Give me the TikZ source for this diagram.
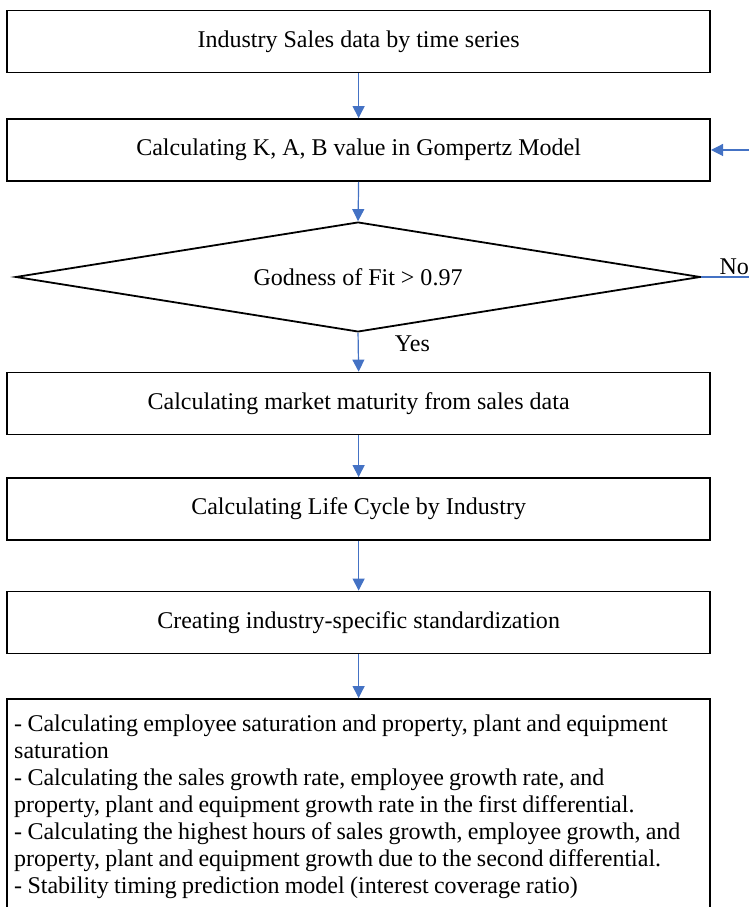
\documentclass[tikz,border=0pt]{standalone}
\usepackage{fontspec}
\setmainfont{Liberation Serif}
\usetikzlibrary{arrows.meta, shapes.geometric}
\definecolor{flowblue}{RGB}{68,114,196}

\begin{document}
\begin{tikzpicture}[
  font=\fontsize{12}{13.5}\selectfont,
  stepbox/.style={draw, line width=0.9pt, minimum width=123.5mm, minimum height=10.9mm, inner sep=0pt},
  decision/.style={draw, diamond, aspect=6, line width=0.9pt, minimum width=120.3mm,
    minimum height=19.3mm, inner sep=0pt},
  listbox/.style={draw, line width=0.9pt, align=left, text width=121mm, inner xsep=1.25mm,
    inner ysep=2.8mm},
  flow/.style={draw=flowblue, line width=0.6pt, -{Triangle[width=6pt,length=6pt]}},
  lbl/.style={inner sep=1pt}
]
\useasboundingbox (0mm,0mm) rectangle (131.58mm,-159.34mm);

\node[stepbox] (sales) at (63mm,-7.29mm) {Industry Sales data by time series};
\node[stepbox] (gomp) at (63mm,-26.35mm) {Calculating K, A, B value in Gompertz Model};
\node[decision] (fit) at (62.9mm,-48.66mm) {Godness of Fit > 0.97};
\node[stepbox] (matur) at (63mm,-70.89mm) {Calculating market maturity from sales data};
\node[stepbox] (cycle) at (63mm,-89.42mm) {Calculating Life Cycle by Industry};
\node[stepbox] (stand) at (63mm,-109.36mm) {Creating industry-specific standardization};

\node[listbox, anchor=north] (calc) at (63mm,-122.63mm)
  {\spaceskip=0.22em plus 0.05em minus 0.05em
   - Calculating employee saturation and property, plant and equipment\\
   saturation\\
   - Calculating the sales growth rate, employee growth rate, and\\
   property, plant and equipment growth rate in the first differential.\\
   - Calculating the highest hours of sales growth, employee growth, and\\
   property, plant and equipment growth due to the second differential.\\
   - Stability timing prediction model (interest coverage ratio)\\[2mm]};

\coordinate (loop) at (137mm,-48.66mm);

\draw[flow] (sales.south) -- (gomp.north);
\draw[flow] (gomp.south) -- (fit.north);
\draw[flow] (fit.south) -- node[lbl, anchor=west, pos=0.27, xshift=6mm] {Yes} (matur.north);
\draw[flow] (cycle.south |- matur.south) -- (cycle.north);
\draw[flow] (cycle.south) -- (stand.north);
\draw[flow] (stand.south) -- (calc.north);
\draw[flow] (fit.east) -- node[lbl, above, pos=0.42] {No} (loop) |- (gomp.east);
\end{tikzpicture}
\end{document}
